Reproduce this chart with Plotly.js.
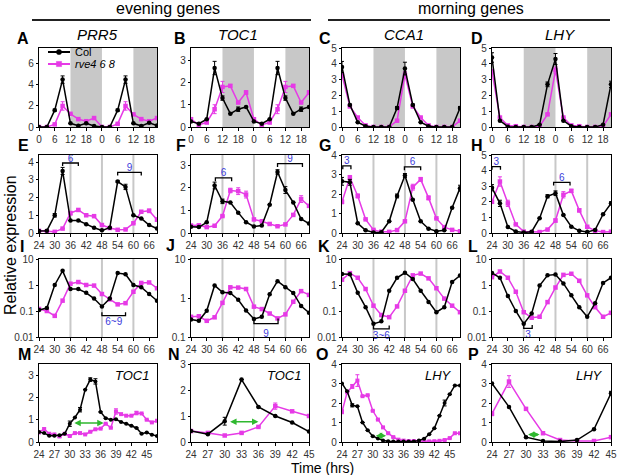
<!DOCTYPE html>
<html><head><meta charset="utf-8">
<script src="https://cdn.plot.ly/plotly-3.0.1.min.js"></script>
<style>html,body{margin:0;padding:0;background:#fff}#chart{width:617px;height:475px}</style>
</head><body><div id="chart"></div>
<script>
// ---------- time axes ----------
const t1 = [0,3,6,9,12,15,18,21,24,27,30,33,36,39,42,45];
const t1Ticks = [0,6,12,18,24,30,36,42];
const t1Labels = ['0','6','12','18','0','6','12','18'];
const t2 = [24,27,30,33,36,39,42,45,48,51,54,57,60,63,66,69];
const t2Ticks = [24,30,36,42,48,54,60,66];
const t4h = [24,25,26,27,28,29,30,31,32,33,34,35,36,37,38,39,40,41,42,43,44,45,46,47];
const t4 = [24,27,30,33,36,39,42,45];
const t4Ticks = [24,27,30,33,36,39,42,45];
const logTicks = [0.01,0.1,1,10];
const logLabels = ['0.01','0.1','1','10'];
const geneNames = ['PRR5','TOC1','CCA1','LHY'];
const seriesNames = ['Col','rve4 6 8'];

// ---------- row 1 (A-D) ----------
const A_col = [0,0,1.6,4.5,0.35,0.12,0.35,0.1, 0,0,1.6,4.5,0.35,0.1,0.4,0.15];
const A_rve = [0,0,0.25,2.0,1.25,0.75,0.55,0.85, 0,0,0.3,2.0,1.2,0.75,0.55,0.85];
const A_colErr = [0,0,0.1,0.35,0,0,0,0, 0,0,0.1,0.35,0,0,0,0];
const A_rveErr = [0,0,0,0.4,0,0,0,0, 0,0,0,0.4,0,0,0,0];
const B_col = [0.25,0.15,0.35,2.65,1.3,0.6,0.8,0.9, 0.25,0.15,0.35,2.65,1.3,0.6,0.8,0.9];
const B_rve = [0.35,0.1,0.2,0.8,1.8,1.85,1.1,1.55, 0.35,0.1,0.2,0.8,1.8,1.85,1.1,1.55];
const B_colErr = [0,0,0,0.3,0.1,0,0.1,0, 0,0,0,0.3,0.1,0,0.1,0];
const B_rveErr = [0,0,0,0.2,0.25,0.05,0,0.08, 0,0,0,0.2,0.25,0.05,0,0.08];
const C_col = [3.8,1.4,0.3,0.05,0,0,0,1.2, 3.7,1.4,0.3,0.05,0,0,0,1.2];
const C_rve = [3.3,1.3,0.6,0.1,0,0,0,0.4, 3.3,1.3,0.6,0.1,0,0,0,0.4];
const C_colErr = [0.35,0.05,0,0,0,0,0,0.1, 0.4,0.05,0,0,0,0,0,0.1];
const C_rveErr = [0.15,0,0,0,0,0,0,0, 0.2,0,0,0,0,0,0,0.05];
const D_col = [4.4,0.4,0.02,0,0,0,0.15,2.7, 4.3,0.4,0.05,0,0,0,0.15,2.7];
const D_rve = [3.5,0.6,0.1,0.05,0,0,0.05,0.8, 3.6,0.6,0.1,0.05,0,0,0.05,0.8];
const D_colErr = [0.3,0,0,0,0,0,0,0.15, 0.35,0,0,0,0,0,0,0.2];
const D_rveErr = [0.15,0,0,0,0,0,0,0.05, 0.2,0,0,0,0,0,0,0];

// ---------- rows 2 & 3 (E-L, same data: linear / log) ----------
const E_col = [0.11,0.13,1.0,3.5,0.7,0.7,0.5,0.3,0.15,0.3,2.9,2.6,1.0,0.82,0.45,0.25];
const E_rve = [0.12,0.1,0.065,0.25,1.12,1.3,1.0,0.95,0.45,0.28,0.18,0.2,0.55,1.2,1.25,0.75];
const E_colErr = [0,0,0.1,0.2,0,0,0,0,0,0,0.05,0.15,0,0,0,0];
const E_rveErr = [0,0,0,0,0.1,0.05,0,0,0,0,0,0,0,0,0.1,0.1];
const F_col = [0.28,0.26,0.47,2.1,1.4,1.35,0.9,0.48,0.29,0.33,1.25,2.7,1.9,1.35,0.62,0.42];
const F_rve = [0.33,0.34,0.26,0.32,0.75,1.88,1.85,1.7,0.6,0.52,0.4,0.3,0.38,0.8,1.5,1.2];
const F_colErr = [0,0,0,0.15,0.1,0,0,0,0,0,0,0.1,0.15,0,0,0];
const F_rveErr = [0,0,0,0,0,0.1,0.15,0.15,0.05,0,0,0,0,0,0.15,0];
const G_col = [2.65,2.6,0.5,0.14,0.032,0.04,0.6,1.9,2.95,1.7,0.6,0.22,0.09,0.14,1.3,2.3];
const G_rve = [1.6,2.85,1.9,0.7,0.16,0.07,0.058,0.15,0.6,2.35,2.75,1.8,0.75,0.3,0.16,0.09];
const G_colErr = [0.2,0.15,0,0,0,0,0,0.1,0.1,0,0,0,0,0,0,0.15];
const G_rveErr = [0.1,0.1,0.1,0,0,0,0,0,0,0.15,0.1,0.1,0,0,0,0];
const H_col = [2.9,1.9,0.38,0.1,0.032,0.08,0.95,2.35,2.55,1.15,0.4,0.14,0.06,0.2,1.2,1.9];
const H_rve = [2.0,3.3,1.9,0.55,0.09,0.055,0.06,0.22,0.8,2.45,2.7,1.45,0.4,0.14,0.06,0.085];
const H_colErr = [0.2,0.2,0,0,0,0,0,0.1,0.15,0,0,0,0,0,0,0.1];
const H_rveErr = [0.1,0.3,0.2,0,0,0,0,0,0.1,0.2,0.1,0.1,0,0,0,0];

// ---------- row 4 (M-P) ----------
const M_col = [0.45,0.4,0.28,0.28,0.3,0.37,0.82,1.1,1.45,2.35,2.8,2.72,1.35,1.07,1.0,1.02,0.9,0.82,0.73,0.63,0.37,0.43,0.33,0.27];
const M_rve = [0.43,0.58,0.37,0.34,0.25,0.37,0.27,0.4,0.4,0.34,0.46,0.57,0.6,0.82,0.64,1.37,1.25,1.18,1.18,1.3,1.28,1.0,0.88,0.95];
const M_colErr = [0,0,0,0,0,0,0.12,0,0.1,0,0.08,0.12,0,0,0,0,0,0,0,0,0,0,0,0];
const M_rveErr = [0,0.05,0,0,0.05,0,0,0,0,0,0,0,0,0,0,0.12,0,0,0,0.08,0,0,0,0];
const N_col = [0.42,0.3,0.8,2.4,1.35,1.0,0.75,0.4];
const N_rve = [0.42,0.35,0.25,0.35,0.58,1.38,1.18,1.0];
const N_colErr = [0,0,0.15,0,0,0,0,0];
const N_rveErr = [0,0,0,0,0,0.12,0,0];
const O_col = [3.0,2.6,1.88,1.83,1.0,0.6,0.3,0.18,0.08,0.04,0.02,0.02,0.02,0.02,0.03,0.08,0.17,0.4,0.7,1.35,2.0,2.45,2.9,2.9];
const O_rve = [1.55,2.55,2.85,3.15,2.35,2.4,1.6,1.15,0.75,0.45,0.25,0.12,0.07,0.05,0.05,0.04,0.03,0.03,0.04,0.06,0.1,0.2,0.45,0.45];
const O_colErr = [0,0,0.08,0,0,0,0,0,0,0,0,0,0,0,0,0,0,0,0,0,0.15,0,0,0];
const O_rveErr = [0.1,0,0.1,0.3,0,0,0,0,0,0,0,0,0,0,0,0,0,0,0,0,0,0,0,0];
const P_col = [3.0,1.8,0.25,0.05,0.02,0.1,0.65,2.5];
const P_rve = [1.45,3.1,1.7,0.45,0.1,0.05,0.05,0.25];
const P_colErr = [0,0,0,0,0,0,0,0.1];
const P_rveErr = [0.1,0.3,0,0,0,0,0,0];

// ---------- brackets (x start, x end, y, label) ----------
const E_br = [[33,39,3.95,'6'],[54,63,3.42,'9']];
const F_br = [[33.3,39.5,2.44,'6'],[57,66.5,3.07,'9']];
const G_br = [[24.3,27.4,3.44,'3'],[47.8,54,3.39,'6']];
const H_br = [[24,27.2,4.26,'3'],[47.3,53.5,3.25,'6']];
const I_br = [[48,57,0.066,'6~9']];
const J_br = [[48,57.2,0.22,'9']];
const K_br = [[36,42,0.0205,'3~6']];
const L_br = [[36,39.2,0.0215,'3']];
// green double arrows (x start, x end, y)
const M_arr = [30.6,36.6,0.85];
const N_arr = [30.7,36,0.78];
const O_arr = [30.3,32.6,0.32];
const P_arr = [30.1,32.4,0.38];

// ---------- layout geometry ----------
const W = 617, H = 475;
const colPx = [[39,157],[191,309],[342,460],[492,611]];
const rowPx = [[48,127],[155,233],[259,337],[364,442]];
const BLACK = '#000000', MAG = '#e63ae6', GREY = '#c8c8c8', BLUE = '#3b3bdc', GREEN = '#2fb82f';
const FONT = 'Arial, "Liberation Sans", sans-serif';

const panels = [
  {x:t1, col:A_col, rve:A_rve, ce:A_colErr, re:A_rveErr, xr:[0,45], xt:t1Ticks, xl:t1Labels, yr:[0,7.5], yt:[0,2,4,6], bands:true},
  {x:t1, col:B_col, rve:B_rve, ce:B_colErr, re:B_rveErr, xr:[0,45], xt:t1Ticks, xl:t1Labels, yr:[0,3.55], yt:[0,1,2,3], bands:true},
  {x:t1, col:C_col, rve:C_rve, ce:C_colErr, re:C_rveErr, xr:[0,45], xt:t1Ticks, xl:t1Labels, yr:[0,5], yt:[0,1,2,3,4,5], bands:true},
  {x:t1, col:D_col, rve:D_rve, ce:D_colErr, re:D_rveErr, xr:[0,45], xt:t1Ticks, xl:t1Labels, yr:[0,5], yt:[0,1,2,3,4,5], bands:true},
  {x:t2, col:E_col, rve:E_rve, ce:E_colErr, re:E_rveErr, xr:[24,69], xt:t2Ticks, yr:[0,4.4], yt:[0,1,2,3,4], vlines:true, br:E_br, drop:0.17},
  {x:t2, col:F_col, rve:F_rve, ce:F_colErr, re:F_rveErr, xr:[24,69], xt:t2Ticks, yr:[0,3.45], yt:[0,1,2,3], vlines:true, br:F_br, drop:0.15},
  {x:t2, col:G_col, rve:G_rve, ce:G_colErr, re:G_rveErr, xr:[24,69], xt:t2Ticks, yr:[0,4], yt:[0,1,2,3,4], vlines:true, br:G_br, drop:0.17},
  {x:t2, col:H_col, rve:H_rve, ce:H_colErr, re:H_rveErr, xr:[24,69], xt:t2Ticks, yr:[0,5], yt:[0,1,2,3,4,5], vlines:true, br:H_br, drop:0.2},
  {x:t2, col:E_col, rve:E_rve, xr:[24,69], xt:t2Ticks, log:true, yr:[-2,1], vlines:true, br:I_br},
  {x:t2, col:F_col, rve:F_rve, xr:[24,69], xt:t2Ticks, log:true, yr:[-1,1], vlines:true, br:J_br},
  {x:t2, col:G_col, rve:G_rve, xr:[24,69], xt:t2Ticks, log:true, yr:[-2,1], vlines:true, br:K_br},
  {x:t2, col:H_col, rve:H_rve, xr:[24,69], xt:t2Ticks, log:true, yr:[-2,1], vlines:true, br:L_br},
  {x:t4h, col:M_col, rve:M_rve, ce:M_colErr, re:M_rveErr, xr:[24,47], xt:t4Ticks, yr:[0,3.5], yt:[0,1,2,3], arr:M_arr, gene:'TOC1', ms:4},
  {x:t4, col:N_col, rve:N_rve, ce:N_colErr, re:N_rveErr, xr:[24,45], xt:t4Ticks, yr:[0,3], yt:[0,1,2,3], arr:N_arr, gene:'TOC1'},
  {x:t4h, col:O_col, rve:O_rve, ce:O_colErr, re:O_rveErr, xr:[24,47], xt:t4Ticks, yr:[0,4], yt:[0,1,2,3,4], arr:O_arr, gene:'LHY', ms:4},
  {x:t4, col:P_col, rve:P_rve, ce:P_colErr, re:P_rveErr, xr:[24,45], xt:t4Ticks, yr:[0,4], yt:[0,1,2,3,4], arr:P_arr, gene:'LHY'}
];

const letters = ['A','B','C','D','E','F','G','H','I','J','K','L','M','N','O','P'];
const letterPos = [[23,39],[180,39],[325,39],[477,39],[23,146],[181,146],[325,146],[477,146],[22,246],[171,245],[324,246],[473,246],[24,354],[174,354],[322,354],[473,354]];

const traces = [], shapes = [], annotations = [];
const layout = {
  width: W, height: H, margin: {l:0, r:0, t:0, b:0},
  paper_bgcolor: '#fff', plot_bgcolor: 'rgba(0,0,0,0)',
  showlegend: false, font: {family: FONT, color: '#000'}
};

panels.forEach((p, i) => {
  const n = i + 1, sfx = n === 1 ? '' : String(n);
  const xa = 'x' + sfx, ya = 'y' + sfx;
  const r = Math.floor(i / 4), c = i % 4;
  const axBase = {showline:true, mirror:true, linecolor:BLACK, linewidth:1.3, ticks:'outside', ticklen:3, tickwidth:1, tickcolor:BLACK,
    tickfont:{size:10, color:'#333', family:FONT}, zeroline:false, showgrid:false, fixedrange:true};
  layout['xaxis' + sfx] = Object.assign({}, axBase, {
    domain:[colPx[c][0]/W, colPx[c][1]/W], anchor: ya, range: p.xr,
    tickmode:'array', tickvals: p.xt, ticktext: p.xl || p.xt.map(String)
  });
  const yax = Object.assign({}, axBase, {
    domain:[1 - rowPx[r][1]/H, 1 - rowPx[r][0]/H], anchor: xa, range: p.yr, ticklen:2
  });
  if (p.log) { yax.type = 'log'; yax.tickmode = 'array'; yax.tickvals = logTicks; yax.ticktext = logLabels; }
  else { yax.tickmode = 'array'; yax.tickvals = p.yt; yax.ticktext = p.yt.map(String); }
  layout['yaxis' + sfx] = yax;

  const ms = p.ms || 4.5;
  const mk = (y, err, color, sym, name) => {
    const t = {x: p.x, y: y, xaxis: xa, yaxis: ya, type:'scatter', mode:'lines+markers', name: name,
      line:{color:color, width:1.5}, marker:{color:color, size:ms, symbol:sym}, hoverinfo:'skip'};
    if (err) t.error_y = {type:'data', array: err, visible:true, color: color, thickness:1, width:2};
    return t;
  };
  traces.push(mk(p.rve, p.re, MAG, 'square', seriesNames[1]));
  traces.push(mk(p.col, p.ce, BLACK, 'circle', seriesNames[0]));

  if (p.bands) {
    [[12,24],[36,45]].forEach(b => shapes.push({type:'rect', xref:xa, yref:ya + ' domain', x0:b[0], x1:b[1], y0:0, y1:1,
      fillcolor:GREY, line:{width:0}, layer:'below'}));
  }
  if (p.vlines) {
    [36,48,60].forEach(v => shapes.push({type:'line', xref:xa, yref:ya + ' domain', x0:v, x1:v, y0:0, y1:1,
      line:{color:GREY, width:2}, layer:'below'}));
  }
  if (p.br) {
    p.br.forEach(b => {
      let yTick, yLab;
      if (p.log) { yTick = b[2] * 1.35; yLab = b[2] / 1.9; }
      else { yTick = b[2] - p.drop; yLab = b[2] + p.drop * 1.3; }
      traces.push({x:[b[0], b[0], b[1], b[1]], y:[yTick, b[2], b[2], yTick], xaxis:xa, yaxis:ya, type:'scatter', mode:'lines',
        line:{color:BLACK, width:1.3}, hoverinfo:'skip'});
      traces.push({x:[(b[0]+b[1])/2], y:[yLab], xaxis:xa, yaxis:ya, type:'scatter', mode:'text', text:[b[3]],
        textfont:{color:BLUE, size:10, family:FONT}, hoverinfo:'skip', cliponaxis:false});
    });
  }
  if (p.arr) {
    annotations.push({xref:xa, yref:ya, axref:xa, ayref:ya, x:p.arr[1], y:p.arr[2], ax:p.arr[0], ay:p.arr[2],
      text:'', showarrow:true, arrowside:'end+start', arrowhead:2, arrowsize:0.8, arrowwidth:1.6, arrowcolor:GREEN, standoff:0, startstandoff:0});
  }
  if (p.gene) {
    annotations.push({xref:'paper', yref:'paper', x:(colPx[c][1]-6)/W, y:1 - 375/H, xanchor:'right', yanchor:'middle',
      text:'<i>' + p.gene + '</i>', showarrow:false, font:{size:13, family:FONT}});
  }
  annotations.push({xref:'paper', yref:'paper', x:letterPos[i][0]/W, y:1 - letterPos[i][1]/H, xanchor:'center', yanchor:'middle',
    text:'<b>' + letters[i] + '</b>', showarrow:false, font:{size:16, family:FONT}});
});

const genePx = [97, 238, 404, 560];
geneNames.forEach((g, k) => annotations.push({xref:'paper', yref:'paper', x:genePx[k]/W, y:1 - 34/H, xanchor:'center', yanchor:'middle',
  text:'<i>' + g + '</i>', showarrow:false, font:{size:15, family:FONT}}));
annotations.push({xref:'paper', yref:'paper', x:168/W, y:1 - 9/H, xanchor:'center', yanchor:'middle', text:'evening genes', showarrow:false, font:{size:16, family:FONT}});
annotations.push({xref:'paper', yref:'paper', x:471/W, y:1 - 9/H, xanchor:'center', yanchor:'middle', text:'morning genes', showarrow:false, font:{size:16, family:FONT}});
shapes.push({type:'line', xref:'paper', yref:'paper', x0:32/W, x1:311/W, y0:1 - 20/H, y1:1 - 20/H, line:{color:'#222', width:1.8}});
shapes.push({type:'line', xref:'paper', yref:'paper', x0:328/W, x1:610/W, y0:1 - 20/H, y1:1 - 20/H, line:{color:'#222', width:1.8}});
annotations.push({xref:'paper', yref:'paper', x:10/W, y:1 - 245/H, xanchor:'center', yanchor:'middle', textangle:-90,
  text:'Relative expression', showarrow:false, font:{size:16, family:FONT}});
annotations.push({xref:'paper', yref:'paper', x:322/W, y:1 - 468/H, xanchor:'center', yanchor:'middle',
  text:'Time (hrs)', showarrow:false, font:{size:14, family:FONT}});
const legY = [52, 64];
[[BLACK,'circle'],[MAG,'square']].forEach((s, k) => {
  const yy = 1 - legY[k]/H;
  shapes.push({type:'line', xref:'paper', yref:'paper', x0:48/W, x1:70/W, y0:yy, y1:yy, line:{color:s[0], width:2}});
  const h = 2.6;
  shapes.push({type: s[1] === 'circle' ? 'circle' : 'rect', xref:'paper', yref:'paper', x0:(59-h)/W, x1:(59+h)/W,
    y0:yy - h/H, y1:yy + h/H, fillcolor:s[0], line:{color:s[0], width:0.5}});
  annotations.push({xref:'paper', yref:'paper', x:73/W, y:yy, xanchor:'left', yanchor:'middle',
    text: k === 0 ? seriesNames[0] : '<i>' + seriesNames[1] + '</i>', showarrow:false, font:{size:11, family:FONT}});
});

layout.shapes = shapes;
layout.annotations = annotations;
Plotly.newPlot('chart', traces, layout, {staticPlot:true, displayModeBar:false});
</script></body></html>
